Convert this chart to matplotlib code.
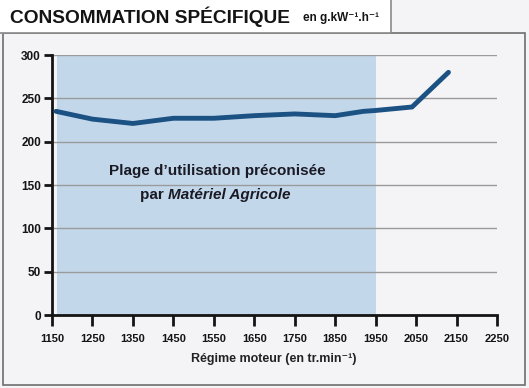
import matplotlib
matplotlib.use("Agg")
import matplotlib.pyplot as plt
from matplotlib.patches import Rectangle

# data
regime = [1160, 1250, 1350, 1450, 1550, 1650, 1750, 1850, 1920, 1950, 2040, 2130]
conso = [235, 226, 221, 227, 227, 230, 232, 230, 235, 236, 240, 280]
plage = (1162, 1950)
x_ticks = [1150, 1250, 1350, 1450, 1550, 1650, 1750, 1850, 1950, 2050, 2150, 2250]
y_ticks = [0, 50, 100, 150, 200, 250, 300]

plt.rcParams["font.family"] = ["Liberation Sans", "DejaVu Sans"]

bg = "#f4f3f5"
ink = "#141414"
W, H = 529, 388
fig = plt.figure(figsize=(W / 100, H / 100), dpi=100, facecolor=bg)

# outer frame and title box
fig.patches.append(Rectangle((3 / W, 3 / H), 522 / W, 352 / H,
                             transform=fig.transFigure, facecolor="none",
                             edgecolor="#6e6e6e", lw=1.2))
fig.patches.append(Rectangle((-0.01, 1 - 33 / H), 396 / W, 0.1,
                             transform=fig.transFigure, facecolor="white",
                             edgecolor="#8a8a8a", lw=1.2))
fig.text(10 / W, 1 - 17 / H, "CONSOMMATION SPÉCIFIQUE", fontsize=13.8,
         fontweight="bold", va="center", ha="left", color=ink)
fig.text(303 / W, 1 - 18 / H, "en g.kW⁻¹.h⁻¹", fontsize=8.5,
         fontweight="bold", va="center", ha="left", color=ink)

ax = fig.add_axes([52 / W, 1 - 315 / H, 445 / W, 260 / H])
ax.set_facecolor(bg)
ax.axvspan(plage[0], plage[1], ymin=0, ymax=1, color="#c3d7eb", lw=0, zorder=0)
for y in y_ticks[1:]:
    ax.axhline(y, color="#9a9a9a", lw=1, zorder=1)
ax.plot(regime, conso, color="#1b5283", lw=3.5, solid_capstyle="round",
        solid_joinstyle="round", zorder=3)

fig.text(217 / W, 1 - 171 / H, "Plage d’utilisation préconisée", ha="center",
         va="center", fontsize=11, fontweight="bold", color="#1a1a24")
fig.text(168 / W, 1 - 195 / H, "par ", ha="right", va="center",
         fontsize=11, fontweight="bold", color="#1a1a24")
fig.text(168 / W, 1 - 195 / H, "Matériel Agricole", ha="left", va="center",
         fontsize=11, fontweight="bold", style="italic", color="#1a1a24")

ax.set_xlim(1150, 2250)
ax.set_ylim(0, 300)
ax.set_xticks(x_ticks)
ax.set_yticks(y_ticks)
ax.tick_params(axis="x", direction="out", length=8, width=2, pad=6,
               labelsize=8, colors=ink)
ax.tick_params(axis="y", direction="out", length=6, width=2, pad=2,
               labelsize=8.5, colors=ink)
for lab in ax.get_xticklabels() + ax.get_yticklabels():
    lab.set_fontweight("bold")
for s in ["top", "right"]:
    ax.spines[s].set_visible(False)
for s in ["left", "bottom"]:
    ax.spines[s].set_linewidth(2)
    ax.spines[s].set_color(ink)

fig.text(274 / W, 1 - 359 / H, "Régime moteur (en tr.min⁻¹)", ha="center",
         va="center", fontsize=9, fontweight="bold", color="#222222")

fig.savefig("out.png", dpi=100, facecolor=bg)
